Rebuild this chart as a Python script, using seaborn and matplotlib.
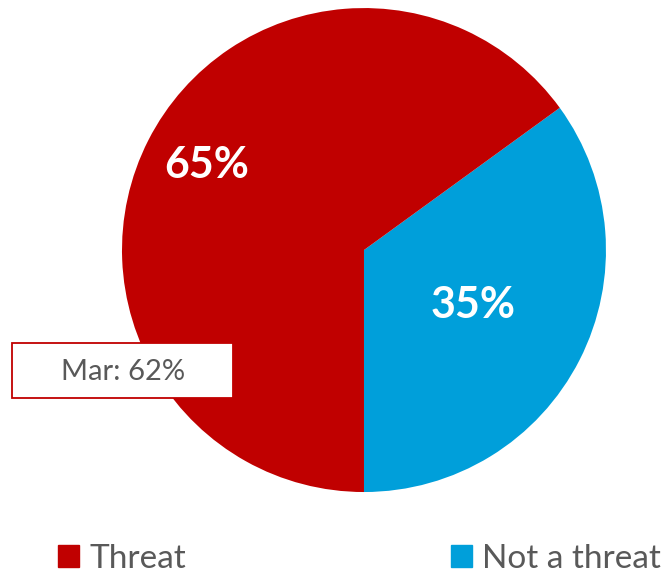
import matplotlib
matplotlib.use("Agg")
import matplotlib.pyplot as plt
from matplotlib.patches import Patch, Rectangle
import seaborn as sns

# data
categories = ["Threat", "Not a threat"]
shares = [65, 35]
colors = ["#C00000", "#009FDA"]
prev_label = "Mar: 62%"

sns.set_theme(style="white")
plt.rcParams['font.family'] = ['Lato', 'DejaVu Sans']

fig = plt.figure(figsize=(6.67, 5.75), dpi=100)
ax = fig.add_axes([0.1829, 0.1443, 0.7256, 0.8417])

# blue slice first so it starts at 6 o'clock going counterclockwise
wedges, texts = ax.pie(shares[::-1], colors=colors[::-1], startangle=-90,
                       counterclock=True, radius=1,
                       wedgeprops=dict(linewidth=0))
ax.set_xlim(-1, 1)
ax.set_ylim(-1, 1)
ax.set_aspect('equal')
ax.axis('off')

# percent labels
ax.text(-0.65, 0.35, f"{shares[0]}%", color="white", fontsize=31,
        fontweight="bold", ha="center", va="center")
ax.text(0.45, -0.227, f"{shares[1]}%", color="white", fontsize=31,
        fontweight="bold", ha="center", va="center")

# previous-month callout
fig.patches.append(Rectangle((12 / 667, 1 - 398 / 575), 221 / 667, 55 / 575,
                             transform=fig.transFigure, fc="white",
                             ec="#C00000", lw=1.3))
fig.text(123 / 667, 1 - 372 / 575, prev_label, color="#595959", fontsize=21,
         ha="center", va="center")

handles = [Patch(color=c, label=l) for c, l in zip(colors, categories)]
fig.legend(handles=handles, loc="center left", bbox_to_anchor=(58 / 667, 1 - 559 / 575),
           ncol=2, frameon=False, fontsize=24, handlelength=0.63, handleheight=0.63,
           handletextpad=0.3, columnspacing=7.95, borderpad=0, borderaxespad=0,
           labelcolor="#595959")

fig.savefig("out.png", dpi=100)
